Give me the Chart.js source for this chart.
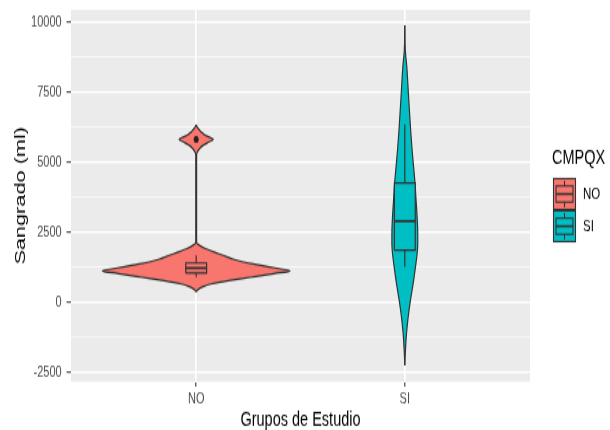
<!DOCTYPE html>
<html>
<head>
<meta charset="utf-8">
<script src="https://cdn.jsdelivr.net/npm/chart.js@4"></script>
<style>
  html, body { margin: 0; padding: 0; background: #fff; }
  #wrap { position: relative; width: 610px; height: 430px; overflow: hidden; }
  /* the reference is stretched vertically, so the canvas is too */
  #chart { position: absolute; left: 0; top: 0; transform: scaleY(1.4007); transform-origin: 0 0; }
</style>
</head>
<body>
<div id="wrap"><canvas id="chart" width="610" height="307"></canvas></div>
<script>
const categories = ["NO", "SI"];
const colors = ["#F8766D", "#00BFC4"];

// violin outlines: level (ml) and half width (x units)
const noLevels = [6330, 6206, 6085, 5966, 5884, 5812, 5727, 5608, 5490, 5369, 5250, 2200,
  2112, 2029, 1911, 1790, 1671, 1553, 1432, 1313, 1195, 1110, 1016, 895, 777, 658, 537, 419, 358];
const noHalfWidths = [0, 0.010, 0.024, 0.043, 0.067, 0.082, 0.062, 0.034, 0.017, 0.006, 0.002, 0.002,
  0.003, 0.016, 0.045, 0.085, 0.128, 0.169, 0.225, 0.310, 0.396, 0.450, 0.372, 0.268, 0.165, 0.077, 0.029, 0.005, 0];
const siLevels = [9903, 9009, 8411, 7817, 7219, 6621, 6027, 5430, 4832, 4238, 3640, 3042,
  2448, 2090, 1732, 1253, 659, 61, -537, -1131, -1729, -2266];
const siHalfWidths = [0, 0.0024, 0.0096, 0.0144, 0.019, 0.024, 0.029, 0.035, 0.042, 0.049, 0.054, 0.059,
  0.062, 0.062, 0.059, 0.051, 0.040, 0.027, 0.016, 0.008, 0.003, 0];

// box plots
const whiskerLow = [895, 1253];
const boxQ1 = [1038, 1850];
const boxMedian = [1217, 2888];
const boxQ3 = [1396, 4259];
const whiskerHigh = [1671, 6360];
const outliers = [[5812], []];

const yMajorTicks = [-2500, 0, 2500, 5000, 7500, 10000];
const yMinorTicks = [-1250, 1250, 3750, 6250, 8750];

Chart.defaults.font.family = "'Liberation Sans', Arial, sans-serif";

const datasets = [];
function add(ds) {
  datasets.push(Object.assign({ pointRadius: 0, borderColor: "#333333", borderWidth: 1.2, fill: false }, ds));
  return datasets.length - 1;
}

[[noLevels, noHalfWidths], [siLevels, siHalfWidths]].forEach(([levels, hw], g) => {
  const c = g + 1;
  const left = add({
    data: levels.map((v, k) => ({ x: c - hw[k], y: v })),
    cubicInterpolationMode: "monotone", order: 3
  });
  add({
    data: levels.map((v, k) => ({ x: c + hw[k], y: v })),
    cubicInterpolationMode: "monotone", order: 3,
    fill: left, backgroundColor: colors[g]
  });
});

const boxHalf = 0.05;
categories.forEach((name, g) => {
  const c = g + 1, l = c - boxHalf, r = c + boxHalf;
  const edge = add({ data: [{ x: l, y: boxQ3[g] }, { x: l, y: boxQ1[g] }], borderWidth: 0, order: 2 });
  add({ data: [{ x: r, y: boxQ3[g] }, { x: r, y: boxQ1[g] }], borderWidth: 0, order: 2,
    fill: edge, backgroundColor: colors[g] });
  add({ data: [{ x: l, y: boxQ1[g] }, { x: l, y: boxQ3[g] }, { x: r, y: boxQ3[g] },
    { x: r, y: boxQ1[g] }, { x: l, y: boxQ1[g] }], order: 1 });
  add({ data: [{ x: c, y: whiskerHigh[g] }, { x: c, y: boxQ3[g] }], order: 1 });
  add({ data: [{ x: c, y: boxQ1[g] }, { x: c, y: whiskerLow[g] }], order: 1 });
  add({ data: [{ x: l, y: boxMedian[g] }, { x: r, y: boxMedian[g] }], borderWidth: 1.8, order: 1 });
  if (outliers[g].length) {
    add({ data: outliers[g].map(v => ({ x: c, y: v })), showLine: false, pointRadius: 2.5,
      pointBackgroundColor: "#222222", pointBorderWidth: 0, order: 0 });
  }
});

const isMajor = c => c.tick && yMajorTicks.includes(c.tick.value);

const ggPlugin = {
  id: "gg",
  beforeDraw(chart) {
    const { ctx, chartArea: a } = chart;
    ctx.save();
    ctx.fillStyle = "#EBEBEB";
    ctx.fillRect(a.left, a.top, a.right - a.left, a.bottom - a.top);
    ctx.restore();
  },
  afterDraw(chart) {
    const ctx = chart.ctx;
    ctx.save();
    ctx.fillStyle = "#000";
    ctx.textBaseline = "middle";
    ctx.font = "14.5px 'Liberation Sans', Arial, sans-serif";
    ctx.fillText("CMPQX", 552, 112.5);
    const size = 23, x0 = 553;
    categories.forEach((name, g) => {
      const y0 = 127 + g * size;
      ctx.lineWidth = 1.1;
      ctx.strokeStyle = "#333333";
      ctx.fillStyle = colors[g];
      ctx.fillRect(x0, y0, size, size);
      ctx.strokeRect(x0 + 0.5, y0 + 0.5, size - 1, size - 1);
      ctx.fillRect(x0 + 3, y0 + 5.75, size - 6, 11.5);
      ctx.strokeRect(x0 + 3, y0 + 5.75, size - 6, 11.5);
      ctx.beginPath();
      ctx.moveTo(x0 + size / 2, y0 + 2); ctx.lineTo(x0 + size / 2, y0 + 5.75);
      ctx.moveTo(x0 + size / 2, y0 + 17.25); ctx.lineTo(x0 + size / 2, y0 + 21);
      ctx.stroke();
      ctx.lineWidth = 1.6;
      ctx.beginPath();
      ctx.moveTo(x0 + 3, y0 + 11.5); ctx.lineTo(x0 + size - 3, y0 + 11.5);
      ctx.stroke();
      ctx.fillStyle = "#000";
      ctx.font = "11.5px 'Liberation Sans', Arial, sans-serif";
      ctx.fillText(name, 583, y0 + 11.5);
    });
    ctx.restore();
  }
};

new Chart(document.getElementById("chart"), {
  type: "line",
  data: { datasets },
  plugins: [ggPlugin],
  options: {
    indexAxis: "y",
    responsive: false,
    animation: false,
    devicePixelRatio: 1,
    events: [],
    layout: { padding: { left: 0, top: 7, right: 80, bottom: 0 } },
    plugins: { legend: { display: false }, tooltip: { enabled: false } },
    scales: {
      x: {
        type: "linear", position: "bottom", min: 0.4, max: 2.6,
        afterBuildTicks: s => { s.ticks = categories.map((n, i) => ({ value: i + 1 })); },
        afterFit: s => { s.height = 34.5; },
        ticks: { autoSkip: false, maxRotation: 0, callback: v => categories[v - 1],
          color: "#4D4D4D", font: { size: 11 }, padding: 2 },
        grid: { color: "#FFFFFF", lineWidth: 1.6, tickColor: "#333333", tickLength: 3.5, tickWidth: 1.1 },
        border: { display: false },
        title: { display: true, text: "Grupos de Estudio", color: "#000",
          font: { size: 14.5, lineHeight: 0.9 }, padding: 0 }
      },
      y: {
        type: "linear", position: "left", min: -2850, max: 10450,
        afterBuildTicks: s => {
          s.ticks = yMajorTicks.concat(yMinorTicks).sort((a, b) => a - b).map(v => ({ value: v }));
        },
        afterFit: s => { s.width = 71; s.paddingTop = 0; s.paddingBottom = 0; },
        ticks: { autoSkip: false, callback: v => yMajorTicks.includes(v) ? String(v) : "",
          color: "#4D4D4D", font: { size: 11 }, padding: 4.8 },
        grid: {
          color: "#FFFFFF",
          lineWidth: c => isMajor(c) ? 1.4 : 0.7,
          tickColor: c => isMajor(c) ? "#333333" : "rgba(0,0,0,0)",
          tickLength: 4.5, tickWidth: 1
        },
        border: { display: false },
        title: { display: true, text: "Sangrado (ml)", color: "#000",
          font: { size: 15.5, lineHeight: 1 }, padding: { top: 13, bottom: 0 } }
      }
    }
  }
});
</script>
</body>
</html>
